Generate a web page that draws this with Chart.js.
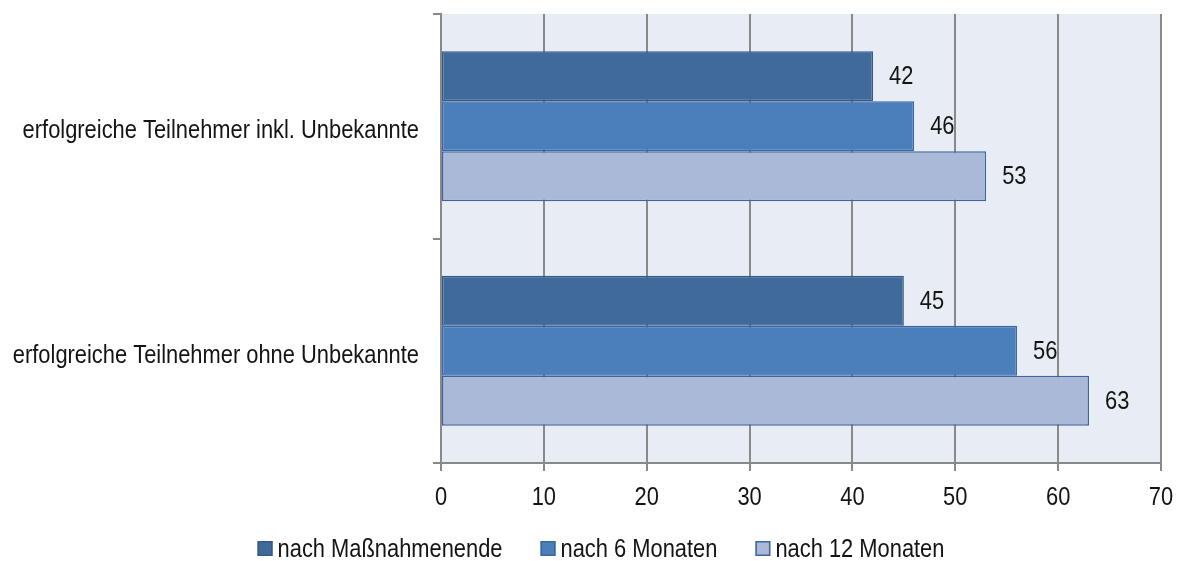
<!DOCTYPE html>
<html>
<head>
<meta charset="utf-8">
<script src="https://cdn.jsdelivr.net/npm/chart.js@4/dist/chart.umd.min.js"></script>
<style>
  html, body { margin: 0; padding: 0; background: #ffffff; }
  #wrap { width: 1181px; height: 561px; position: relative; }
</style>
</head>
<body>
<div id="wrap"><canvas id="c" width="1181" height="561"></canvas></div>
<script>
const categories = [
  'erfolgreiche Teilnehmer inkl. Unbekannte',
  'erfolgreiche Teilnehmer ohne Unbekannte'
];
const seriesNames = ['nach Maßnahmenende', 'nach 6 Monaten', 'nach 12 Monaten'];
const afterEnd = [42, 45];
const after6 = [46, 56];
const after12 = [53, 63];
const xTicks = [0, 10, 20, 30, 40, 50, 60, 70];

// narrow sans look: Liberation Sans squeezed horizontally
const FONT = "'Liberation Sans', Arial, sans-serif";
const FONT_PX = 25;
const SQUEEZE = 0.875;
const TEXT = '#141414';
const fills = ['#3F6A9A', '#4B7FBC', '#A9B9D7'];
const borders = ['#35598A', '#3A68A2', '#3F659A'];

function narrowText(ctx, str, x, y, align) {
  ctx.save();
  ctx.font = FONT_PX + 'px ' + FONT;
  ctx.fillStyle = TEXT;
  ctx.textBaseline = 'middle';
  const w = ctx.measureText(str).width * SQUEEZE;
  let left = x;
  if (align === 'right') left = x - w;
  else if (align === 'center') left = x - w / 2;
  ctx.translate(left, y);
  ctx.scale(SQUEEZE, 1);
  ctx.textAlign = 'left';
  ctx.fillText(str, 0, 0);
  ctx.restore();
  return w;
}

// shaded plot background
const plotBg = {
  id: 'plotBg',
  beforeDraw(chart) {
    const { ctx, chartArea: a } = chart;
    ctx.save();
    ctx.fillStyle = '#E8EDF5';
    ctx.fillRect(a.left, a.top, a.right - a.left, a.bottom - a.top);
    ctx.restore();
  }
};

// axis labels, value labels and legend
const textLayer = {
  id: 'textLayer',
  afterDraw(chart) {
    const { ctx, scales, chartArea: a } = chart;
    // category labels
    chart.data.labels.forEach((lab, i) => {
      narrowText(ctx, lab, a.left - 22, scales.y.getPixelForValue(i) + 5, 'right');
    });
    // value axis labels
    xTicks.forEach(v => {
      narrowText(ctx, String(v), scales.x.getPixelForValue(v), a.bottom + 35, 'center');
    });
    // value labels at bar ends
    chart.data.datasets.forEach((ds, i) => {
      chart.getDatasetMeta(i).data.forEach((bar, j) => {
        narrowText(ctx, String(ds.data[j]), bar.x + 16, bar.y + 1, 'left');
      });
    });
    // legend, centred under the chart
    ctx.save();
    ctx.font = FONT_PX + 'px ' + FONT;
    const box = 15, gapText = 5, gapItem = 38;
    const widths = chart.data.datasets.map(ds => ctx.measureText(ds.label).width * SQUEEZE);
    const total = widths.reduce((s, w) => s + box + gapText + w, 0) + gapItem * (widths.length - 1);
    ctx.restore();
    let x = 601 - total / 2;
    const ly = 549;
    chart.data.datasets.forEach((ds, i) => {
      ctx.save();
      ctx.fillStyle = ds.backgroundColor;
      ctx.strokeStyle = ds.borderColor;
      ctx.lineWidth = 1.5;
      ctx.fillRect(x, ly - 8, box, box);
      ctx.strokeRect(x + 0.75, ly - 7.25, box - 1.5, box - 1.5);
      ctx.restore();
      narrowText(ctx, ds.label, x + box + gapText, ly + 1, 'left');
      x += box + gapText + widths[i] + gapItem;
    });
  }
};

new Chart(document.getElementById('c'), {
  type: 'bar',
  data: {
    labels: categories,
    datasets: [
      { label: seriesNames[0], data: afterEnd },
      { label: seriesNames[1], data: after6 },
      { label: seriesNames[2], data: after12 }
    ].map((d, i) => Object.assign(d, {
      backgroundColor: fills[i],
      borderColor: borders[i],
      borderWidth: 1.5,
      borderSkipped: false,
      barPercentage: 1.0,
      categoryPercentage: 0.668
    }))
  },
  options: {
    indexAxis: 'y',
    responsive: false,
    animation: false,
    layout: { padding: { top: 14, right: 20, left: 0, bottom: 0 } },
    scales: {
      x: {
        min: 0,
        max: 70,
        afterBuildTicks(scale) { scale.ticks = xTicks.map(v => ({ value: v })); },
        afterFit(scale) { scale.height = 98; },
        grid: { color: '#898989', lineWidth: 2, tickLength: 8, drawTicks: true },
        border: { color: '#898989', width: 2 },
        ticks: { display: false }
      },
      y: {
        afterFit(scale) { scale.width = 441; },
        grid: { offset: true, drawOnChartArea: false, color: '#898989', lineWidth: 2, tickLength: 8 },
        border: { color: '#898989', width: 2 },
        ticks: { display: false }
      }
    },
    plugins: {
      legend: { display: false },
      tooltip: { enabled: false }
    }
  },
  plugins: [plotBg, textLayer]
});
</script>
</body>
</html>
